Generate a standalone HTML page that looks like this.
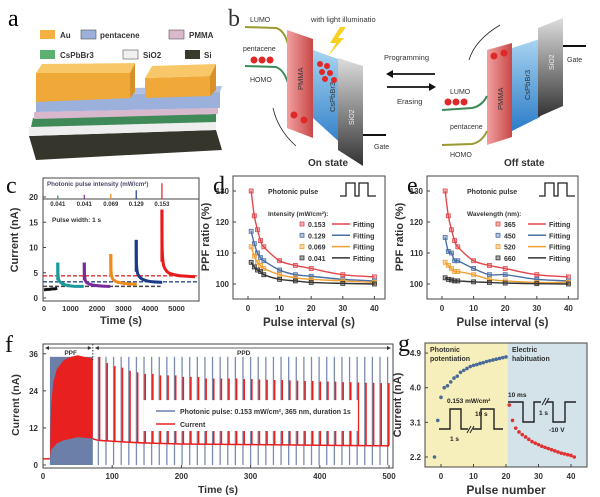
<!DOCTYPE html>
<html><head><meta charset="utf-8"><style>
html,body{margin:0;padding:0;background:#fff;}
svg{display:block;font-family:"Liberation Sans",sans-serif;}
.b{font-weight:bold;}
.pl{font-family:"Liberation Serif",serif;font-size:24px;}
</style></head><body>
<svg id="fig" width="600" height="497" viewBox="0 0 600 497" xmlns="http://www.w3.org/2000/svg">
<defs>
<linearGradient id="gSi" x1="0" y1="0" x2="0" y2="1"><stop offset="0" stop-color="#ddd"/><stop offset="1" stop-color="#333"/></linearGradient>
<linearGradient id="gPM" x1="0" y1="0" x2="1" y2="0"><stop offset="0" stop-color="#f2a0a0"/><stop offset="1" stop-color="#c84848"/></linearGradient>
<linearGradient id="gCs" x1="0" y1="0" x2="0" y2="1"><stop offset="0" stop-color="#a8d4f0"/><stop offset="1" stop-color="#2c7cc8"/></linearGradient>
</defs>

<!-- Panel a -->
<g>
<text x="8" y="26" class="pl">a</text>
<g font-size="8" class="b" fill="#333">
<rect x="40" y="30" width="15" height="9" fill="#f4b040"/><text x="60" y="38">Au</text>
<rect x="81" y="30" width="15" height="9" fill="#9cb0dc" stroke="#555" stroke-width="0.6"/><text x="100" y="38">pentacene</text>
<rect x="169" y="30" width="15" height="9" fill="#dcb8cc" stroke="#555" stroke-width="0.6"/><text x="189" y="38">PMMA</text>
<rect x="40" y="50" width="15" height="9" fill="#5cb070"/><text x="60" y="58">CsPbBr3</text>
<rect x="123" y="50" width="15" height="9" fill="#f0f0f0" stroke="#555" stroke-width="0.6"/><text x="143" y="58">SiO2</text>
<rect x="185" y="50" width="15" height="9" fill="#3a3a2c"/><text x="204" y="58">Si</text>
</g>
<g>
<polygon points="29,136 216,130 222,150 36,160" fill="#35352c"/>
<polygon points="29,127 216,121 216,130 29,136" fill="#eeeeee"/>
<polygon points="33,118 216,114 216,122 31,127" fill="#3f8a58"/>
<polygon points="34,112 218,108 218,114 34,119" fill="#d8b8cc"/>
<polygon points="36,96 220,92 220,108 36,112" fill="#9cb0dc"/>
<polygon points="40,90 222,86 220,92 36,96" fill="#b0c0e4"/>
<polygon points="36,73 130,73 130,98 36,102" fill="#f0a838"/>
<polygon points="36,73 42,64 135,63 130,73" fill="#f8c868"/>
<polygon points="130,73 135,63 135,92 130,98" fill="#d89028"/>
<polygon points="145,78 210,76 210,96 145,98" fill="#f0a838"/>
<polygon points="145,78 152,66 216,64 210,76" fill="#f8c868"/>
<polygon points="210,76 216,64 216,90 210,96" fill="#d89028"/>
</g>
</g>

<!-- Panel b -->
<g font-size="7" fill="#333">
<text x="228" y="26" class="pl">b</text>
<text x="250" y="22">LUMO</text>
<text x="311" y="22" font-size="7.5">with light illuminatio</text>
<text x="243" y="51">pentacene</text>
<text x="250" y="82">HOMO</text>
<path d="M245,27 L276,28 Q284,30 288,44" fill="none" stroke="#9a9a30" stroke-width="2"/>
<path d="M245,66 L276,67 Q284,70 288,83" fill="none" stroke="#3a8a5a" stroke-width="2"/>
<g fill="#e02828"><circle cx="254" cy="60" r="3.5"/><circle cx="262" cy="60" r="3.5"/><circle cx="270" cy="60" r="3.5"/></g>
<polygon points="287,30 313,39 313,138 287,128" fill="url(#gPM)"/>
<text transform="translate(303,90) rotate(-90)" font-size="7.5">PMMA</text>
<polygon points="313,50 346,62 346,148 313,118" fill="url(#gCs)"/>
<text transform="translate(335,112) rotate(-90)" font-size="7.5">CsPbBr3</text>
<polygon points="338,58 363,66 363,166 338,150" fill="url(#gSi)"/>
<text transform="translate(354,125) rotate(-90)" font-size="7" fill="#eee">SiO2</text>
<line x1="363" y1="135" x2="386" y2="135" stroke="#111" stroke-width="2"/>
<text x="374" y="149">Gate</text>
<polygon points="340,27 330,43 336,43 328,56 344,38 338,38 346,27" fill="#f8d020"/>
<g fill="#e02828"><circle cx="320" cy="64" r="3"/><circle cx="327" cy="66" r="3"/><circle cx="322" cy="72" r="3"/><circle cx="330" cy="73" r="3"/><circle cx="325" cy="79" r="3"/><circle cx="334" cy="80" r="3"/><circle cx="294" cy="115" r="3.5"/><circle cx="304" cy="120" r="3.5"/></g>
<path d="M296,146 Q278,130 273,108" fill="none" stroke="#222" stroke-width="0.8"/>
<text x="308" y="166" font-size="10" class="b">On state</text>
<text x="384" y="60" font-size="7.5">Programming</text>
<line x1="390" y1="74" x2="435" y2="74" stroke="#111" stroke-width="1.8"/><polygon points="386,74 393,70 393,78" fill="#111"/>
<line x1="387" y1="87" x2="431" y2="87" stroke="#111" stroke-width="1.8"/><polygon points="436,87 429,83 429,91" fill="#111"/>
<text x="397" y="104" font-size="7.5">Erasing</text>
<path d="M500,25 Q475,40 469,60" fill="none" stroke="#222" stroke-width="0.8"/>
<polygon points="487,50 512,43 512,137 487,145" fill="url(#gPM)"/>
<text transform="translate(503,110) rotate(-90)" font-size="7.5">PMMA</text>
<polygon points="512,48 540,39 540,117 512,131" fill="url(#gCs)"/>
<text transform="translate(530,100) rotate(-90)" font-size="7.5">CsPbBr3</text>
<polygon points="538,28 563,18 563,106 538,117" fill="url(#gSi)"/>
<text transform="translate(554,70) rotate(-90)" font-size="7" fill="#eee">SiO2</text>
<line x1="563" y1="46" x2="586" y2="46" stroke="#111" stroke-width="2"/>
<text x="567" y="62">Gate</text>
<g fill="#e02828"><circle cx="494" cy="56" r="3.5"/><circle cx="504" cy="53" r="3.5"/><circle cx="448" cy="102" r="3.5"/><circle cx="456" cy="102" r="3.5"/><circle cx="464" cy="102" r="3.5"/></g>
<text x="450" y="94">LUMO</text>
<path d="M442,110 L472,108 Q482,106 487,96" fill="none" stroke="#3a8a5a" stroke-width="2"/>
<text x="450" y="129">pentacene</text>
<path d="M442,145 L472,144 Q482,142 487,131" fill="none" stroke="#9a9a30" stroke-width="2"/>
<text x="450" y="157">HOMO</text>
<text x="504" y="166" font-size="10" class="b">Off state</text>
</g>

<g id="charts"></g>
</svg>
<script>
// ---------- Panel c data ----------
const cBaseTimes = [0, 100, 200, 300, 400, 500];
const cBaseVals = [1.6, 1.7, 1.7, 1.8, 1.8, 1.9];
const cSegStarts = [520, 1520, 2520, 3480, 4450];
const cSegOffsets = [0, 5, 20, 40, 80, 180, 280, 480, 680, 980, 1250];
const cSegVals = [
  [7.0, 5.0, 4.0, 3.5, 3.2, 2.8, 2.6, 2.4, 2.3, 2.3, null],
  [7.0, 5.0, 4.0, 3.5, 3.1, 2.8, 2.6, 2.45, 2.35, 2.3, null],
  [8.7, 6.0, 4.8, 4.2, 3.7, 3.3, 3.1, 2.9, 2.8, 2.7, null],
  [11.5, 7.5, 6.0, 5.2, 4.5, 3.9, 3.6, 3.3, 3.2, 3.1, null],
  [17.5, 11.0, 8.5, 7.2, 6.2, 5.3, 4.9, 4.6, 4.4, 4.3, 4.2]
];
const cSegColors = ["#1a9a9a", "#7a2a9a", "#f08a1a", "#1a3a8a", "#e81a1a"];
const cDashVals = [4.4, 3.2, 2.3];
const cDashColors = ["#d83030", "#2a4a8a", "#444"];
const cInsetLabels = ["0.041", "0.041", "0.069", "0.129", "0.153"];
const cInsetHeights = [1.0, 1.2, 1.5, 2.5, 4.5];
const cYTicks = [0, 5, 10, 15, 20];
const cXTicks = [0, 1000, 2000, 3000, 4000, 5000];

// ---------- Panel d / e data ----------
const ppfIntervals = [1, 2, 3, 4, 5, 10, 15, 20, 30, 40];
const dLabels = ["0.153", "0.129", "0.069", "0.041"];
const dSeries = [
  [130, 122, 117.5, 114, 112, 107.5, 106, 105, 103, 102.3],
  [117, 113, 110, 108.5, 107.5, 104.5, 103, 102.5, 101.5, 101],
  [112, 109, 107, 106, 105, 103, 102, 101.5, 101, 100.5],
  [107, 105.5, 104.5, 104, 103, 101.5, 101, 100.5, 100.2, 100]
];
const eLabels = ["365", "450", "520", "660"];
const eSeries = [
  [130, 122, 117.5, 114, 112, 107.5, 106, 105, 103, 102.3],
  [115, 110.5, 110, 107.5, 107.5, 105, 103, 103, 101.5, 101],
  [107, 106, 105, 104, 104, 103, 101.5, 101, 100.5, 100.5],
  [102, 101.5, 101.3, 101, 101, 100.7, 100.5, 100.3, 100.1, 100]
];
const ppfColors = ["#e0464c", "#4a6fa5", "#f0a030", "#333333"];
const ppfYTicks = [100, 110, 120, 130];
const ppfXTicks = [0, 10, 20, 30, 40];

// ---------- Panel f data ----------
const fPpfUpperT = [10, 11, 12, 15, 20, 30, 40, 50, 60, 72];
const fPpfUpperV = [2, 14, 20, 27, 31, 34, 35, 35.5, 35, 34.5];
const fPpfLowerT = [10, 11, 12, 20, 30, 40, 50, 60, 72];
const fPpfLowerV = [2, 4, 5, 7, 8, 8.5, 9, 8.8, 8.5];
const fPulseTimes = [80,91,102,113,124,135,146,157,168,179,190,201,212,223,234,245,256,267,278,289,300,311,322,333,344,355,366,377,388,399,410,421,432,443,454,465,476,487,498];
const fSpikeTops = [35,33,32,31.5,30.5,30,29.5,29.5,29,29,29,28.5,28.5,28.5,28,28,28,28,28,27.8,27.8,27.7,27.6,27.5,27.5,27.4,27.3,27.2,27.2,27,27,27,26.8,26.8,26.7,26.6,26.6,26.5,26.5];
const fBaseT = [72, 80, 100, 150, 200, 300, 400, 500];
const fBaseV = [8.5, 8.0, 7.7, 7.1, 6.8, 6.6, 6.4, 6.2];
const fPulseHeight = [35];
const fYTicks = [0, 12, 24, 36];
const fXTicks = [0, 100, 200, 300, 400, 500];

// ---------- Panel g data ----------
const gBlueX = [-2,-1,0,1,2,3,4,5,6,7,8,9,10,11,12,13,14,15,16,17,18,19,20];
const gBlueY = [2.2,3.15,3.75,4.0,4.05,4.15,4.25,4.3,4.4,4.45,4.5,4.55,4.58,4.6,4.63,4.65,4.68,4.7,4.72,4.74,4.76,4.78,4.8];
const gRedX = [21,22,23,24,25,26,27,28,29,30,31,32,33,34,35,36,37,38,39,40,41];
const gRedY = [3.55,3.15,2.95,2.85,2.78,2.72,2.66,2.6,2.56,2.52,2.48,2.45,2.42,2.39,2.36,2.33,2.3,2.28,2.26,2.24,2.2];
const gYTicks = [2.2, 3.1, 4.0, 4.9];
const gXTicks = [0, 10, 20, 30, 40];

const NS = "http://www.w3.org/2000/svg";
const root = document.getElementById("charts");
function mk(tag, attrs, parent, txt) {
  const e = document.createElementNS(NS, tag);
  for (const k in attrs) e.setAttribute(k, attrs[k]);
  if (txt !== undefined) e.textContent = txt;
  (parent || root).appendChild(e);
  return e;
}
function grp(name) {
  const g = mk("g", {});
  
  
  return g;
}
function smooth(pts) {
  let d = "M" + pts[0][0] + "," + pts[0][1];
  for (let i = 0; i < pts.length - 1; i++) {
    const p0 = pts[Math.max(0, i - 1)], p1 = pts[i], p2 = pts[i + 1], p3 = pts[Math.min(pts.length - 1, i + 2)];
    const c1x = p1[0] + (p2[0] - p0[0]) / 6, c1y = p1[1] + (p2[1] - p0[1]) / 6;
    const c2x = p2[0] - (p3[0] - p1[0]) / 6, c2y = p2[1] - (p3[1] - p1[1]) / 6;
    d += " C" + c1x + "," + c1y + " " + c2x + "," + c2y + " " + p2[0] + "," + p2[1];
  }
  return d;
}
function txt(g, x, y, s, opts) {
  const t = mk("text", Object.assign({x: x, y: y, "font-size": 8, "font-weight": "bold", fill: "#333"}, opts || {}), g, s);
  return t;
}
function frame(g, x0, y0, x1, y1) {
  const r = mk("rect", {x: x0, y: y0, width: x1 - x0, height: y1 - y0, fill: "none", stroke: "#444", "stroke-width": 1}, g);
  
  
}
function ytitle(g, x, y, s, fs) {
  const t = mk("text", {transform: "translate(" + x + "," + y + ") rotate(-90)", "text-anchor": "middle", "font-size": fs || 11, "font-weight": "bold", fill: "#333"}, g, s);
  
  
}

// ===== Panel c =====
(function () {
  const g = grp("panel-c");
  const L = 43, R = 199, T = 178, B = 301, BR = 199;
  const xC = t => 44 + t * 0.0265;
  const yC = v => 298 - v * 5.05;
  txt(g, 6, 193, "c", {"font-size": 24, "font-weight": "normal", "font-family": "Liberation Serif, serif", fill: "#111"});
  mk("rect", {x: L, y: T, width: R - L, height: B - T, fill: "#fff"}, g);
  // dashed lines
  cDashVals.forEach((v, i) => {
    const l = mk("line", {x1: L, x2: i === 2 ? xC(4400) : R, y1: yC(v), y2: yC(v), stroke: cDashColors[i], "stroke-width": 1.4, "stroke-dasharray": "4,2"}, g);
    
    
  });
  const base = mk("path", {d: "M" + cBaseTimes.map((t, i) => xC(t) + "," + yC(cBaseVals[i])).join(" L"), fill: "none", stroke: "#111", "stroke-width": 3}, g);
  
  
  cSegStarts.forEach((s, k) => {
    const pts = [];
    cSegOffsets.forEach((o, i) => { const v = cSegVals[k][i]; if (v !== null) pts.push([xC(s + o), yC(v)]); });
    const p = mk("path", {d: smooth(pts), fill: "none", stroke: cSegColors[k], "stroke-width": 3}, g);
    
    
    const sp = mk("line", {x1: xC(s), x2: xC(s), y1: yC(cSegVals[k][0]), y2: yC(cSegVals[k][3]), stroke: cSegColors[k], "stroke-width": 3}, g);
    
    
  });
  frame(g, L, T, R, B);
  mk("line", {x1: L, x2: R, y1: BR, y2: BR, stroke: "#444", "stroke-width": 1}, g);
  txt(g, 47, 186, "Photonic pulse intensity (mW/cm²)", {"font-size": 6.2, fill: "#4a4a6a"});
  cSegStarts.forEach((s, k) => {
    const l = mk("line", {x1: xC(s), x2: xC(s), y1: BR, y2: BR - cInsetHeights[k] * 3.5, stroke: cSegColors[k], "stroke-width": 1.2}, g);
    
    
    txt(g, xC(s), 206, cInsetLabels[k], {"font-size": 6, "text-anchor": "middle"});
  });
  txt(g, 52, 222, "Pulse width: 1 s", {"font-size": 6.5});
  cYTicks.forEach(v => {
    txt(g, 38, yC(v) + 3, String(v), {"text-anchor": "end"});
    mk("line", {x1: L, x2: L + 3, y1: yC(v), y2: yC(v), stroke: "#444"}, g);
  });
  cXTicks.forEach(v => txt(g, xC(v), 311, String(v), {"text-anchor": "middle", "font-size": 7.5}));
  ytitle(g, 18, 240, "Current (nA)");
  const xt = txt(g, 121, 324, "Time (s)", {"text-anchor": "middle", "font-size": 11});
  
  
})();

// ===== Panels d, e =====
function ppfPanel(name, letter, L, R, x0, lx, labels, series, legTitle, legX) {
  const T = 176, B = 299;
  const g = grp(name);
  const xS = t => x0 + t * 3.16;
  const yS = v => 284 - (v - 100) * 3.1;
  txt(g, L - 20, 193, letter, {"font-size": 24, "font-weight": "normal", "font-family": "Liberation Serif, serif", fill: "#111"});
  frame(g, L, T, R, B);
  ppfYTicks.forEach(v => { txt(g, L - 4, yS(v) + 3, String(v), {"text-anchor": "end"}); mk("line", {x1: L, x2: L + 3, y1: yS(v), y2: yS(v), stroke: "#444"}, g); });
  ppfXTicks.forEach(v => { txt(g, xS(v), 311, String(v), {"text-anchor": "middle"}); mk("line", {x1: xS(v), x2: xS(v), y1: B, y2: B - 3, stroke: "#444"}, g); });
  ytitle(g, L - 24, 237, "PPF ratio (%)");
  const xt = txt(g, (L + R) / 2, 326, "Pulse interval (s)", {"text-anchor": "middle", "font-size": 11.5});
  
  
  series.forEach((s, k) => {
    const pts = s.map((v, i) => [xS(ppfIntervals[i]), yS(v)]);
    const p = mk("path", {d: smooth(pts), fill: "none", stroke: ppfColors[k], "stroke-width": 1.4}, g);
    
    
    pts.forEach(q => {
      const r = mk("rect", {x: q[0] - 2, y: q[1] - 2, width: 4, height: 4, fill: ppfColors[k], "fill-opacity": 0.4, stroke: ppfColors[k], "stroke-width": 0.8}, g);
      
      
    });
  });
  txt(g, lx, 194, "Photonic pulse", {"font-size": 7});
  mk("path", {d: `M${lx + 72},196 h6 v-13 h9 v13 h4 v-13 h9 v13 h8`, fill: "none", stroke: "#222", "stroke-width": 1.3}, g);
  txt(g, lx, 216, legTitle, {"font-size": 6.5});
  labels.forEach((lab, k) => {
    const y = 227 + k * 11.3;
    const lg = grp("legend-entry-" + lab);
    g.appendChild(lg);
    mk("rect", {x: legX - 2, y: y - 5, width: 4, height: 4, fill: ppfColors[k], "fill-opacity": 0.4, stroke: ppfColors[k], "stroke-width": 0.8}, lg);
    txt(lg, legX + 6, y, lab, {"font-size": 7});
    mk("line", {x1: legX + 30, x2: legX + 48, y1: y - 3, y2: y - 3, stroke: ppfColors[k], "stroke-width": 1.5}, lg);
    txt(lg, legX + 51, y, "Fitting", {"font-size": 7});
  });
}
ppfPanel("panel-d", "d", 233, 385, 248, 268, dLabels, dSeries, "Intensity (mW/cm²):", 302);
ppfPanel("panel-e", "e", 427, 578, 442, 467, eLabels, eSeries, "Wavelength (nm):", 498);

// ===== Panel f =====
(function () {
  const g = grp("panel-f");
  const L = 43, R = 393, T = 344, B = 468;
  const xF = t => 43 + t * 0.692;
  const yF = v => 465 - v * 3.09;
  txt(g, 5, 352, "f", {"font-size": 24, "font-weight": "normal", "font-family": "Liberation Serif, serif", fill: "#111"});
  const bf = mk("rect", {x: xF(10), y: yF(fPulseHeight[0]), width: xF(72) - xF(10), height: yF(0) - yF(fPulseHeight[0]), fill: "#6b7fa8"}, g);
  
  
  fPulseTimes.forEach(t => {
    const l = mk("line", {x1: xF(t), x2: xF(t), y1: yF(0), y2: yF(fPulseHeight[0]), stroke: "#7a8cb0", "stroke-width": 1.3}, g);
    
    
  });
  const up = fPpfUpperT.map((t, i) => [xF(t), yF(fPpfUpperV[i])]);
  const lo = fPpfLowerT.map((t, i) => [xF(t), yF(fPpfLowerV[i])]).reverse();
  const area = mk("path", {d: "M" + up.map(p => p.join(",")).join(" L") + " L" + lo.map(p => p.join(",")).join(" L") + " Z", fill: "#e82020"}, g);
  
  
  const pre = mk("line", {x1: xF(0), x2: xF(10), y1: yF(2), y2: yF(2), stroke: "#e82020", "stroke-width": 1.5}, g);
  
  
  const bl = mk("path", {d: smooth(fBaseT.map((t, i) => [xF(t), yF(fBaseV[i])])), fill: "none", stroke: "#e82020", "stroke-width": 1.5}, g);
  
  
  // base interpolation for spike foot
  function baseAt(t) {
    for (let i = 0; i < fBaseT.length - 1; i++) if (t <= fBaseT[i + 1]) { const f = (t - fBaseT[i]) / (fBaseT[i + 1] - fBaseT[i]); return fBaseV[i] + f * (fBaseV[i + 1] - fBaseV[i]); }
    return fBaseV[fBaseV.length - 1];
  }
  fPulseTimes.forEach((t, i) => {
    const l = mk("line", {x1: xF(t) + 1.2, x2: xF(t) + 1.2, y1: yF(baseAt(t)), y2: yF(fSpikeTops[i]), stroke: "#e82020", "stroke-width": 1.6}, g);
    
    
  });
  const lg = grp("legend");
  g.appendChild(lg);
  mk("rect", {x: xF(145), y: yF(21), width: xF(455) - xF(145), height: yF(11) - yF(21), fill: "#fff"}, lg);
  mk("line", {x1: 156, x2: 175, y1: 411, y2: 411, stroke: "#6b7fa8", "stroke-width": 1.5}, lg);
  txt(lg, 180, 414, "Photonic pulse: 0.153 mW/cm², 365 nm, duration 1s", {"font-size": 7});
  mk("line", {x1: 156, x2: 175, y1: 424, y2: 424, stroke: "#e82020", "stroke-width": 1.5}, lg);
  txt(lg, 180, 427, "Current", {"font-size": 7});
  frame(g, L, T, R, B);
  // PPF / PPD headers
  mk("line", {x1: xF(72), x2: xF(72), y1: T, y2: yF(34), stroke: "#333", "stroke-dasharray": "1.5,1.5"}, g);
  mk("line", {x1: L + 3, x2: xF(72) - 2, y1: 348, y2: 348, stroke: "#333", "stroke-width": 0.8}, g);
  mk("line", {x1: xF(72) + 3, x2: R - 3, y1: 348, y2: 348, stroke: "#333", "stroke-width": 0.8}, g);
  mk("path", {d: `M${L + 2},348 l4,-2 v4 z M${xF(72) - 1},348 l-4,-2 v4 z M${xF(72) + 2},348 l4,-2 v4 z M${R - 2},348 l-4,-2 v4 z`, fill: "#333"}, g);
  txt(g, xF(40), 355, "PPF", {"font-size": 6.5, "text-anchor": "middle"});
  txt(g, xF(290), 355, "PPD", {"font-size": 6.5, "text-anchor": "middle"});
  fYTicks.forEach(v => { txt(g, 38, yF(v) + 3, String(v), {"text-anchor": "end"}); mk("line", {x1: L, x2: L + 3, y1: yF(v), y2: yF(v), stroke: "#444"}, g); });
  fXTicks.forEach(v => { txt(g, xF(v), 479, String(v), {"text-anchor": "middle"}); mk("line", {x1: xF(v), x2: xF(v), y1: B, y2: B - 3, stroke: "#444"}, g); });
  ytitle(g, 19, 405, "Current (nA)", 10.5);
  const xt = txt(g, 218, 493, "Time (s)", {"text-anchor": "middle", "font-size": 10.5});
  
  
})();

// ===== Panel g =====
(function () {
  const g = grp("panel-g");
  const L = 425, R = 587, T = 343, B = 467;
  const xG = n => 441 + n * 3.25;
  const yG = v => 457 - (v - 2.2) * 38.5;
  txt(g, 398, 351, "g", {"font-size": 24, "font-weight": "normal", "font-family": "Liberation Serif, serif", fill: "#111"});
  mk("rect", {x: L, y: T, width: xG(20.5) - L, height: B - T, fill: "#f7efbb"}, g);
  mk("rect", {x: xG(20.5), y: T, width: R - xG(20.5), height: B - T, fill: "#d3e3e9"}, g);
  frame(g, L, T, R, B);
  gBlueX.forEach((x, i) => {
    const c = mk("circle", {cx: xG(x), cy: yG(gBlueY[i]), r: 1.8, fill: "#4a6a98"}, g);
    
    
  });
  gRedX.forEach((x, i) => {
    const c = mk("circle", {cx: xG(x), cy: yG(gRedY[i]), r: 1.8, fill: "#e03030"}, g);
    
    
  });
  txt(g, 430, 352, "Photonic", {"font-size": 7});
  txt(g, 430, 361, "potentiation", {"font-size": 7});
  txt(g, 512, 352, "Electric", {"font-size": 7});
  txt(g, 512, 361, "habituation", {"font-size": 7});
  txt(g, 447, 403, "0.153 mW/cm²", {"font-size": 6.5, fill: "#222"});
  mk("path", {d: "M439,429 H450 V409 H461 V429 H468 M473,429 H481 V409 H494 V429 H503", fill: "none", stroke: "#222", "stroke-width": 1.4}, g);
  mk("path", {d: "M467,433 l4,-7 M470,433 l4,-7 M542,405 l4,-7 M545,405 l4,-7", fill: "none", stroke: "#222", "stroke-width": 1}, g);
  txt(g, 475, 416, "10 s", {"font-size": 6.5, fill: "#222"});
  txt(g, 450, 441, "1 s", {"font-size": 6.5, fill: "#222"});
  txt(g, 508, 397, "10 ms", {"font-size": 6.5, fill: "#222"});
  mk("path", {d: "M508,402 H523 V422 H534 V402 H541 M547,402 H553 V422 H565 V402 H576", fill: "none", stroke: "#222", "stroke-width": 1.4}, g);
  txt(g, 539, 415, "1 s", {"font-size": 6.5, fill: "#222"});
  txt(g, 549, 432, "-10 V", {"font-size": 6.5, fill: "#222"});
  gYTicks.forEach(v => { txt(g, L - 4, yG(v) + 3, v.toFixed(1), {"text-anchor": "end"}); mk("line", {x1: L, x2: L + 3, y1: yG(v), y2: yG(v), stroke: "#444"}, g); });
  gXTicks.forEach(v => { txt(g, xG(v), 479, String(v), {"text-anchor": "middle"}); mk("line", {x1: xG(v), x2: xG(v), y1: B, y2: B - 3, stroke: "#444"}, g); });
  ytitle(g, 401, 405, "Current (nA)", 11);
  const xt = txt(g, 506, 494, "Pulse number", {"text-anchor": "middle", "font-size": 12});
  
  
})();
</script>
</body></html>
